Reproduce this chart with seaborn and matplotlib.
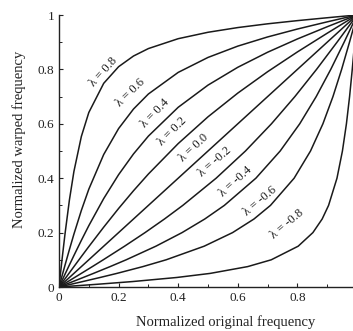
import numpy as np
import pandas as pd
import matplotlib
matplotlib.use("Agg")
import matplotlib.pyplot as plt
import seaborn as sns

# Sample positions along the axis (original freq. for λ>0, warped freq. for λ<0)
grid = [0, 0.01, 0.02, 0.035, 0.05, 0.075, 0.1, 0.15, 0.2, 0.25, 0.3, 0.4,
        0.5, 0.6, 0.7, 0.8, 0.9, 0.95, 1.0]

# Positive warping factors: warped frequency at each grid value of original frequency
warp_p08 = [0, 0.0992, 0.1938, 0.3203, 0.4245, 0.5534, 0.6415, 0.7488, 0.8099, 0.8492,
            0.8766, 0.9129, 0.9365, 0.9538, 0.9676, 0.9793, 0.9899, 0.9950, 1.0]
warp_p06 = [0, 0.0400, 0.0796, 0.1379, 0.1942, 0.2815, 0.3595, 0.4871, 0.5825, 0.6543,
            0.7096, 0.7890, 0.8440, 0.8856, 0.9193, 0.9484, 0.9748, 0.9875, 1.0]
warp_p04 = [0, 0.0233, 0.0466, 0.0813, 0.1156, 0.1715, 0.2254, 0.3251, 0.4130, 0.4892,
            0.5548, 0.6607, 0.7422, 0.8078, 0.8631, 0.9119, 0.9568, 0.9785, 1.0]
warp_p02 = [0, 0.0150, 0.0300, 0.0524, 0.0748, 0.1119, 0.1485, 0.2200, 0.2887, 0.3539,
            0.4154, 0.5273, 0.6257, 0.7129, 0.7915, 0.8642, 0.9330, 0.9666, 1.0]
# Negative warping factors: original frequency at each grid value of warped frequency
orig_m08 = [0, 0.1282, 0.2469, 0.3953, 0.5073, 0.6332, 0.7122, 0.8026, 0.8520, 0.8831,
            0.9046, 0.9328, 0.9511, 0.9645, 0.9751, 0.9841, 0.9922, 0.9961, 1.0]
orig_m06 = [0, 0.0400, 0.0796, 0.1379, 0.1942, 0.2815, 0.3595, 0.4871, 0.5825, 0.6543,
            0.7096, 0.7890, 0.8440, 0.8856, 0.9193, 0.9484, 0.9748, 0.9875, 1.0]
orig_m04 = [0, 0.0233, 0.0466, 0.0813, 0.1156, 0.1715, 0.2254, 0.3251, 0.4130, 0.4892,
            0.5548, 0.6607, 0.7422, 0.8078, 0.8631, 0.9119, 0.9568, 0.9785, 1.0]
orig_m02 = [0, 0.0150, 0.0300, 0.0524, 0.0748, 0.1119, 0.1485, 0.2200, 0.2887, 0.3539,
            0.4154, 0.5273, 0.6257, 0.7129, 0.7915, 0.8642, 0.9330, 0.9666, 1.0]

curve_labels = ["λ = 0.8", "λ = 0.6", "λ = 0.4", "λ = 0.2", "λ = 0.0",
                "λ = -0.2", "λ = -0.4", "λ = -0.6", "λ = -0.8"]
tick_vals = [0, 0.2, 0.4, 0.6, 0.8, 1.0]
ytick_text = ["0", "0.2", "0.4", "0.6", "0.8", "1"]
xtick_text = ["0", "0.2", "0.4", "0.6", "0.8", ""]

pos = {"p08": warp_p08, "p06": warp_p06, "p04": warp_p04, "p02": warp_p02}
neg = {"m08": orig_m08, "m06": orig_m06, "m04": orig_m04, "m02": orig_m02}
rows = []
for lab, ys in pos.items():
    for i, (a, b) in enumerate(zip(grid, ys)):
        rows.append((lab, i, a, b))
for i, a in enumerate(grid):
    rows.append(("z00", i, a, a))
for lab, xs in neg.items():
    for i, (a, b) in enumerate(zip(xs, grid)):
        rows.append((lab, i, a, b))
df = pd.DataFrame(rows, columns=["lam", "order", "x", "y"])

sns.set_style("ticks")
plt.rcParams["font.family"] = ["Liberation Serif", "DejaVu Serif"]

fig = plt.figure(figsize=(3.53, 3.31), dpi=100)
ax = fig.add_axes([59 / 353, 44 / 331, 298 / 353, 272 / 331])

sns.lineplot(data=df, x="x", y="y", units="lam", estimator=None, sort=False,
             color="#1a1a1a", linewidth=1.1, ax=ax, legend=False)

ax.set_xlim(0, 1)
ax.set_ylim(0, 1)
ax.set_xticks(tick_vals)
ax.set_xticklabels(xtick_text)
ax.set_yticks(tick_vals)
ax.set_yticklabels(ytick_text)
ax.set_xticks(np.arange(0.1, 1.0, 0.2), minor=True)
ax.set_yticks(np.arange(0.1, 1.0, 0.2), minor=True)
ax.tick_params(axis="both", which="major", direction="in", length=3, width=0.8,
               labelsize=9.5, pad=3.5, colors="#222222")
ax.tick_params(axis="both", which="minor", direction="in", length=2, width=0.7,
               colors="#222222")
for s in ["left", "bottom"]:
    ax.spines[s].set_linewidth(1.0)
    ax.spines[s].set_color("#222222")
sns.despine(ax=ax, top=True, right=True)
ax.set_xlabel("")
ax.set_ylabel("")

fig.text(226 / 353, 1 - 322 / 331, "Normalized original frequency",
         ha="center", va="center", fontsize=10.5, color="#222222")
fig.text(19 / 353, 1 - 139 / 331, "Normalized warped frequency",
         ha="center", va="center", rotation=90, fontsize=10.5, color="#222222")

label_px = [(92, 85), (118, 105), (143, 126), (160, 144), (181, 160),
            (200, 175), (221, 195), (245, 214), (272, 237)]
label_rot = [48, 44, 46, 45, 43, 41, 42, 40, 40]
for lab, (px, py), r in zip(curve_labels, label_px, label_rot):
    xd = (px - 59) / 298
    yd = (287 - py) / 272
    ax.text(xd, yd, lab, rotation=r, rotation_mode="anchor", ha="left", va="center",
            fontsize=9, color="#222222")

fig.savefig("out.png", dpi=100)
